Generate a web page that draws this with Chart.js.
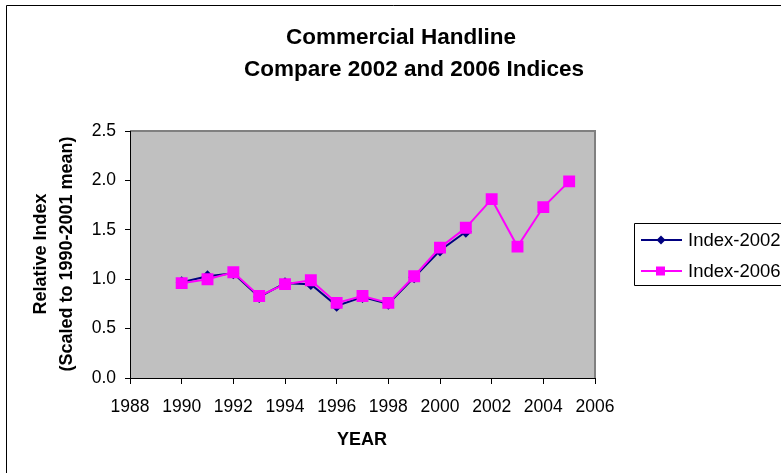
<!DOCTYPE html>
<html>
<head>
<meta charset="utf-8">
<script src="https://cdn.jsdelivr.net/npm/chart.js@4"></script>
<style>
  html, body { margin: 0; padding: 0; background: #fff; }
  #wrap { width: 781px; height: 473px; position: relative; }
</style>
</head>
<body>
<div id="wrap"><canvas id="chart" width="781" height="473"></canvas></div>
<script>
// data
const years2002 = [1990, 1991, 1992, 1993, 1994, 1995, 1996, 1997, 1998, 1999, 2000, 2001];
const index2002 = [0.97, 1.03, 1.06, 0.82, 0.96, 0.95, 0.73, 0.82, 0.75, 1.02, 1.29, 1.48];
const years2006 = [1990, 1991, 1992, 1993, 1994, 1995, 1996, 1997, 1998, 1999, 2000, 2001, 2002, 2003, 2004, 2005];
const index2006 = [0.96, 1.00, 1.07, 0.83, 0.95, 0.99, 0.76, 0.83, 0.76, 1.03, 1.32, 1.52, 1.81, 1.33, 1.73, 1.99];
const seriesNames = ['Index-2002', 'Index-2006'];
const titleLines = ['Commercial Handline', 'Compare 2002 and 2006 Indices'];
const yTitleLines = ['Relative Index', '(Scaled to 1990-2001 mean)'];
const xTitle = 'YEAR';

const FONT = '"Liberation Sans", Arial, sans-serif';
const NAVY = '#000080';
const PINK = '#FF00FF';

function toPoints(xs, ys) {
    return xs.map((x, i) => ({ x: x, y: ys[i] }));
}

// frame, plot background, titles and legend
const decorPlugin = {
    id: 'decor',
    beforeDraw(chart) {
        const ctx = chart.ctx;
        const a = chart.chartArea;
        ctx.save();
        ctx.fillStyle = '#fff';
        ctx.fillRect(0, 0, chart.width, chart.height);
        // outer frame (left and top visible)
        ctx.strokeStyle = '#000';
        ctx.lineWidth = 1;
        ctx.beginPath();
        ctx.moveTo(6.5, chart.height);
        ctx.lineTo(6.5, 5.5);
        ctx.lineTo(chart.width, 5.5);
        ctx.stroke();
        // plot area
        ctx.fillStyle = '#C0C0C0';
        ctx.fillRect(a.left, a.top, a.right - a.left, a.bottom - a.top);
        ctx.strokeStyle = '#808080';
        ctx.lineWidth = 2;
        ctx.beginPath();
        ctx.moveTo(a.left, a.top);
        ctx.lineTo(a.right, a.top);
        ctx.lineTo(a.right, a.bottom);
        ctx.stroke();
        ctx.restore();
    },
    afterDraw(chart) {
        const ctx = chart.ctx;
        ctx.save();
        ctx.fillStyle = '#000';
        ctx.textAlign = 'center';
        ctx.textBaseline = 'middle';
        // chart title
        ctx.font = 'bold 22.5px ' + FONT;
        ctx.fillText(titleLines[0], 401, 38);
        ctx.fillText(titleLines[1], 414, 70);
        // axis titles
        ctx.font = 'bold 18px ' + FONT;
        ctx.fillText(xTitle, 362, 440);
        ctx.save();
        ctx.translate(41, 254);
        ctx.rotate(-Math.PI / 2);
        ctx.fillText(yTitleLines[0], 0, 0);
        ctx.restore();
        ctx.save();
        ctx.translate(67, 254);
        ctx.rotate(-Math.PI / 2);
        ctx.fillText(yTitleLines[1], 0, 0);
        ctx.restore();
        // legend
        ctx.strokeStyle = '#000';
        ctx.lineWidth = 1;
        ctx.beginPath();
        ctx.moveTo(chart.width, 223.5);
        ctx.lineTo(634.5, 223.5);
        ctx.lineTo(634.5, 285.5);
        ctx.lineTo(chart.width, 285.5);
        ctx.stroke();
        const rows = [
            { y: 240, color: NAVY, shape: 'diamond' },
            { y: 271, color: PINK, shape: 'square' }
        ];
        rows.forEach((r, i) => {
            ctx.strokeStyle = r.color;
            ctx.lineWidth = 2;
            ctx.beginPath();
            ctx.moveTo(641, r.y);
            ctx.lineTo(682, r.y);
            ctx.stroke();
            ctx.fillStyle = r.color;
            if (r.shape === 'diamond') {
                ctx.beginPath();
                ctx.moveTo(661, r.y - 4.5);
                ctx.lineTo(665.5, r.y);
                ctx.lineTo(661, r.y + 4.5);
                ctx.lineTo(656.5, r.y);
                ctx.closePath();
                ctx.fill();
            } else {
                ctx.fillRect(656, r.y - 4.5, 9, 9);
            }
            ctx.fillStyle = '#000';
            ctx.textAlign = 'left';
            ctx.font = '18.5px ' + FONT;
            ctx.fillText(seriesNames[i], 688, r.y + 1);
        });
        ctx.restore();
    }
};

new Chart(document.getElementById('chart'), {
    type: 'line',
    data: {
        datasets: [{
            label: seriesNames[0],
            data: toPoints(years2002, index2002),
            borderColor: NAVY,
            backgroundColor: NAVY,
            borderWidth: 2,
            pointStyle: 'rectRot',
            pointRadius: 4.5,
            pointHoverRadius: 4.5,
            tension: 0,
            order: 2
        }, {
            label: seriesNames[1],
            data: toPoints(years2006, index2006),
            borderColor: PINK,
            backgroundColor: PINK,
            borderWidth: 2,
            pointStyle: 'rect',
            pointRadius: 7,
            pointHoverRadius: 7,
            tension: 0,
            order: 1
        }]
    },
    options: {
        responsive: false,
        animation: false,
        events: [],
        layout: { padding: { left: 0, top: 131, right: 186, bottom: 0 } },
        plugins: {
            legend: { display: false },
            title: { display: false },
            tooltip: { enabled: false }
        },
        scales: {
            x: {
                type: 'linear',
                min: 1988,
                max: 2006,
                ticks: {
                    stepSize: 2,
                    color: '#000',
                    font: { family: FONT, size: 17.5 },
                    padding: 13,
                    maxRotation: 0,
                    callback: v => String(v)
                },
                grid: { drawOnChartArea: false, drawTicks: true, tickLength: 6, color: '#000' },
                border: { color: '#000', width: 1 },
                afterFit(scale) { scale.height = 95; }
            },
            y: {
                min: 0,
                max: 2.5,
                ticks: {
                    stepSize: 0.5,
                    color: '#000',
                    font: { family: FONT, size: 17.5 },
                    padding: 9,
                    callback: v => v.toFixed(1)
                },
                grid: { drawOnChartArea: false, drawTicks: true, tickLength: 5, color: '#000' },
                border: { color: '#000', width: 1 },
                afterFit(scale) { scale.width = 130; }
            }
        }
    },
    plugins: [decorPlugin]
});
</script>
</body>
</html>
